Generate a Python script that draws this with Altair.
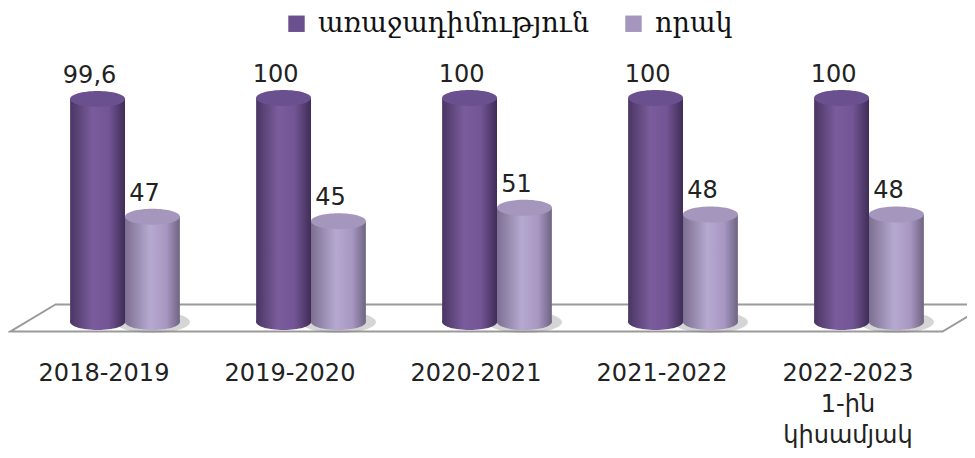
import altair as alt
import pandas as pd

periods = ["2018-2019", "2019-2020", "2020-2021", "2021-2022", "2022-2023|1-ին|կիսամյակ"]
series_names = ["առաջադիմություն", "որակ"]
progress = [99.6, 100, 100, 100, 100]
quality = [47, 45, 51, 48, 48]

def fmt(v):
    s = ("%g" % v)
    return s.replace(".", ",")

rows = []
for p, a, b in zip(periods, progress, quality):
    rows.append({"period": p, "series": series_names[0], "value": a, "label": fmt(a), "zero": 0})
    rows.append({"period": p, "series": series_names[1], "value": b, "label": fmt(b), "zero": 0})
df = pd.DataFrame(rows)

ELLIPSE = "M -1 0 A 1 0.29 0 1 0 1 0 A 1 0.29 0 1 0 -1 0 Z"
FLOOR = "M -0.908 -0.0276 L -1 0.0276 L 0.908 0.0276 L 1 -0.0276 Z"

xs = alt.X("period:N", sort=periods,
           scale=alt.Scale(range=[24, 954], paddingInner=0.41, paddingOuter=0.205),
           axis=alt.Axis(title=None, domain=False, ticks=False, labelAngle=0,
                         labelFontSize=24, labelPadding=13, labelColor="#222222",
                         labelFont="DejaVu Sans", labelLineHeight=31, labelOffset=-21,
                         labelExpr="split(datum.label, '|')"))
xo = alt.XOffset("series:N", sort=series_names, scale=alt.Scale(domain=series_names))
ys = alt.Y("value:Q", scale=alt.Scale(domain=[0, 100], range=[314, 90]), axis=None)
y0 = alt.Y("zero:Q", scale=alt.Scale(domain=[0, 100], range=[314, 90]), axis=None)

grad_dark = alt.Gradient(gradient="linear", x1=0, x2=1, y1=0, y2=0, stops=[
    alt.GradientStop(color="#4a3563", offset=0),
    alt.GradientStop(color="#7a5c9c", offset=0.4),
    alt.GradientStop(color="#735595", offset=0.7),
    alt.GradientStop(color="#3f2d57", offset=1)])
grad_light = alt.Gradient(gradient="linear", x1=0, x2=1, y1=0, y2=0, stops=[
    alt.GradientStop(color="#7c6f91", offset=0),
    alt.GradientStop(color="#b6a9d0", offset=0.45),
    alt.GradientStop(color="#a797c2", offset=0.75),
    alt.GradientStop(color="#6f6482", offset=1)])

base = alt.Chart(df)

floor = alt.Chart(pd.DataFrame({"k": [0]})).mark_point(
    shape=FLOOR, filled=True, fill="white", stroke="#9a9a9a", strokeWidth=2, opacity=1
).encode(x=alt.value(491), y=alt.value(310), size=alt.value(977 * 977))

shadow = base.mark_point(shape=ELLIPSE, filled=True, color="#888888", opacity=0.35).encode(
    x=xs, xOffset=xo, y=y0, size=alt.value(75 * 75)).transform_filter(
    alt.datum.series == series_names[1])

layers = [floor, shadow]
for name, grad in [(series_names[0], grad_dark), (series_names[1], grad_light)]:
    bottom = base.transform_filter(alt.datum.series == name).mark_point(
        shape=ELLIPSE, filled=True, fill=grad, opacity=1).encode(
        x=xs, xOffset=xo, y=y0, size=alt.value(55 * 55))
    body = base.transform_filter(alt.datum.series == name).mark_bar(
        fill=grad).encode(x=xs, xOffset=xo, y=ys, y2="zero:Q")
    layers += [bottom, body]

tops = base.mark_point(shape=ELLIPSE, filled=True, opacity=1).encode(
    x=xs, xOffset=xo, y=ys, size=alt.value(55 * 55),
    color=alt.Color("series:N", sort=series_names,
                    scale=alt.Scale(domain=series_names, range=["#6b5090", "#a596be"]),
                    legend=alt.Legend(title=None, orient="none", legendX=275, legendY=2,
                                      direction="horizontal", symbolType="square",
                                      symbolSize=270, labelFont="DejaVu Serif",
                                      labelFontSize=27, labelColor="#111111",
                                      columnPadding=30, labelLimit=400, labelOffset=8)))

labels = base.mark_text(baseline="alphabetic", dy=-16, dx=-8, fontSize=24,
                        font="DejaVu Sans", color="#222222").encode(
    x=xs, xOffset=xo, y=ys, text="label:N")

layers += [tops, labels]

chart = alt.layer(*layers).properties(
    width=959, height=340, autosize="none",
    padding={"left": 0, "top": 0, "right": 0, "bottom": 110}
).configure_view(stroke=None)

chart.save("out.html", embed_options={"renderer": "svg", "actions": False})
